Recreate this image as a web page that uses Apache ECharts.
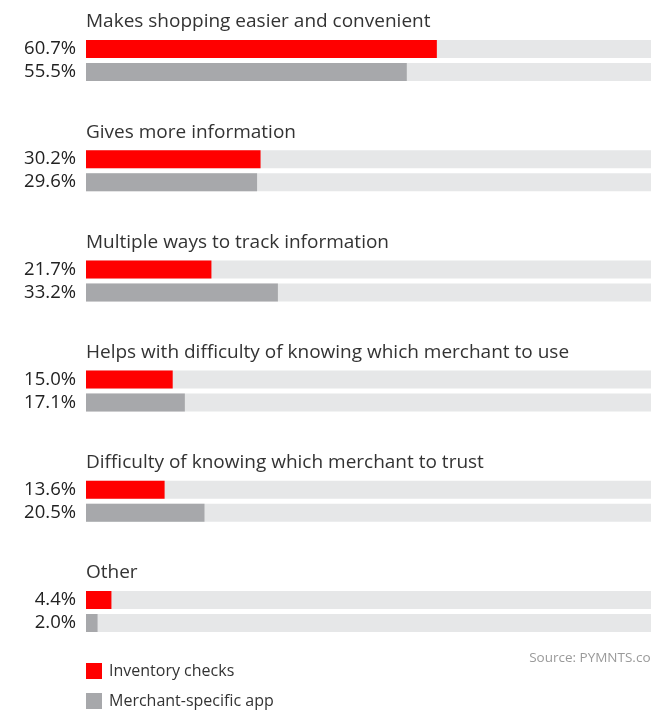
<!DOCTYPE html>
<html>
<head>
<meta charset="utf-8">
<script src="https://cdn.jsdelivr.net/npm/echarts@6/dist/echarts.min.js"></script>
<style>
  html, body { margin: 0; padding: 0; background: #ffffff; }
  #chart { width: 651px; height: 710px; }
</style>
</head>
<body>
<div id="chart"></div>
<script>
// Reasons for using each tool (share of respondents, %)
const categories = [
  'Makes shopping easier and convenient',
  'Gives more information',
  'Multiple ways to track information',
  'Helps with difficulty of knowing which merchant to use',
  'Difficulty of knowing which merchant to trust',
  'Other'
];
const inventoryChecks = [60.7, 30.2, 21.7, 15.0, 13.6, 4.4];
const merchantApp = [55.5, 29.6, 33.2, 17.1, 20.5, 2.0];
const seriesNames = ['Inventory checks', 'Merchant-specific app'];
const sourceNote = 'Source: PYMNTS.com';

const FONT = '"Open Sans", sans-serif';

const chart = echarts.init(document.getElementById('chart'), null, { renderer: 'canvas' });

const pctLabel = {
  show: true,
  position: 'left',
  distance: 10,
  color: '#222222',
  fontFamily: FONT,
  fontSize: 18.5,
  formatter: p => p.value.toFixed(1) + '%'
};

const track = { color: '#e6e7e8' };

chart.setOption({
  animation: false,
  backgroundColor: '#ffffff',
  title: {
    text: sourceNote,
    right: -17,
    top: 646,
    textStyle: { color: '#9a9a9a', fontFamily: FONT, fontSize: 13.5, fontWeight: 'normal' }
  },
  legend: {
    orient: 'vertical',
    left: 86,
    top: 663,
    padding: 0,
    itemWidth: 16,
    itemHeight: 16,
    itemGap: 14,
    icon: 'rect',
    textStyle: { color: '#333333', fontFamily: FONT, fontSize: 16, padding: [0, 0, 0, 2] },
    data: seriesNames
  },
  grid: {
    left: 86, top: 5.4, width: 578, height: 661.2,
    containLabel: false,
    outerBoundsMode: 'none'
  },
  xAxis: {
    type: 'value',
    min: 0,
    max: 100,
    show: false
  },
  yAxis: {
    type: 'category',
    inverse: true,
    data: categories,
    axisLine: { show: false },
    axisTick: { show: false },
    splitLine: { show: false },
    axisLabel: {
      inside: true,
      margin: 0,
      interval: 0,
      align: 'left',
      verticalAlign: 'middle',
      // title line sits above the pair of bars; the empty second line pushes it up
      formatter: v => '{t|' + v + '}\n{s|}',
      rich: {
        t: { color: '#333333', fontFamily: FONT, fontSize: 19, lineHeight: 22, height: 22 },
        s: { height: 77, lineHeight: 77 }
      }
    }
  },
  series: [
    {
      name: seriesNames[0],
      type: 'bar',
      data: inventoryChecks,
      barWidth: 18,
      barGap: '27.8%',
      itemStyle: { color: '#ff0000' },
      showBackground: true,
      backgroundStyle: track,
      label: pctLabel
    },
    {
      name: seriesNames[1],
      type: 'bar',
      data: merchantApp,
      barWidth: 18,
      itemStyle: { color: '#a7a8ab' },
      showBackground: true,
      backgroundStyle: track,
      label: pctLabel
    }
  ]
});
</script>
</body>
</html>
